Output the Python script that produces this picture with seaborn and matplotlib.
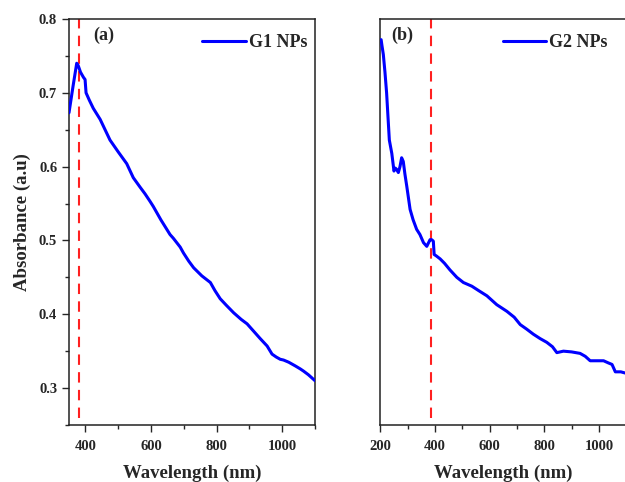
import numpy as np
import pandas as pd
import matplotlib
matplotlib.use("Agg")
import matplotlib.pyplot as plt
from matplotlib.ticker import MultipleLocator
import seaborn as sns

# G1 NPs spectrum (panel a)
g1_wl = [350, 362, 373.5, 378, 385, 394, 399, 402, 412, 424, 445, 460, 475, 500, 526,
         546, 567, 582, 597, 607, 630, 658, 668, 689, 699, 715, 730, 755, 781, 795,
         811, 830, 852, 875, 893, 913, 933, 954, 969, 982, 994, 1004, 1020, 1040,
         1055, 1065, 1080, 1100]
g1_abs = [0.673, 0.708, 0.740, 0.737, 0.728, 0.721, 0.718, 0.700, 0.690, 0.679, 0.664,
          0.650, 0.636, 0.620, 0.604, 0.585, 0.572, 0.563, 0.553, 0.546, 0.528, 0.508,
          0.503, 0.491, 0.483, 0.472, 0.463, 0.452, 0.443, 0.432, 0.421, 0.412, 0.402,
          0.393, 0.387, 0.377, 0.367, 0.357, 0.346, 0.342, 0.339, 0.338, 0.335, 0.330,
          0.326, 0.323, 0.318, 0.310]

# G2 NPs spectrum (panel b)
g2_wl = [203, 206, 211, 217, 223, 233, 242, 250, 255, 260, 266, 272, 278, 284, 290,
         297, 309, 320, 333, 345, 358, 370, 382, 388, 394, 397, 405, 419, 435, 455,
         480, 504, 535, 560, 590, 626, 663, 690, 712, 735, 760, 785, 809, 830, 846,
         870, 900, 931, 950, 968, 990, 1017, 1035, 1048, 1060, 1080, 1100]
g2_abs = [0.772, 0.764, 0.752, 0.728, 0.700, 0.636, 0.618, 0.594, 0.598, 0.596, 0.592,
          0.600, 0.612, 0.607, 0.590, 0.573, 0.542, 0.528, 0.515, 0.508, 0.497, 0.492,
          0.501, 0.501, 0.499, 0.481, 0.479, 0.475, 0.469, 0.460, 0.450, 0.443, 0.438,
          0.432, 0.425, 0.413, 0.404, 0.396, 0.386, 0.380, 0.373, 0.367, 0.362, 0.356,
          0.348, 0.350, 0.349, 0.347, 0.343, 0.337, 0.337, 0.337, 0.334, 0.332, 0.322,
          0.322, 0.320]

peak_a = 380
peak_b = 387

g1 = pd.DataFrame({"wl": g1_wl, "abs": g1_abs})
g2 = pd.DataFrame({"wl": g2_wl, "abs": g2_abs})

sns.set_style("ticks")
plt.rcParams["font.family"] = ["Liberation Serif", "DejaVu Serif"]
plt.rcParams["font.weight"] = "bold"
plt.rcParams["axes.labelweight"] = "bold"

fig = plt.figure(figsize=(6.25, 4.82), dpi=100)
ax1 = fig.add_axes([0.1104, 0.1183, 0.3936, 0.8423])
ax2 = fig.add_axes([0.6085, 0.1183, 0.3935, 0.8423])

for ax, df, name, tag, peak in [(ax1, g1, "G1 NPs", "(a)", peak_a),
                                (ax2, g2, "G2 NPs", "(b)", peak_b)]:
    sns.lineplot(data=df, x="wl", y="abs", ax=ax, color="#0000FF", lw=2.2,
                 label=name, zorder=3)
    ax.plot([peak, peak], [0.26, 0.8], color="#FF2020", lw=1.5,
            dashes=(5, 3.5), zorder=2)
    ax.set_ylim(0.25, 0.8)
    ax.xaxis.set_major_locator(MultipleLocator(200))
    ax.xaxis.set_minor_locator(MultipleLocator(100))
    ax.yaxis.set_major_locator(MultipleLocator(0.1))
    ax.yaxis.set_minor_locator(MultipleLocator(0.05))
    ax.tick_params(which="major", direction="out", length=5, width=1, labelsize=10.5)
    ax.tick_params(axis="x", which="major", pad=6)
    ax.tick_params(which="minor", direction="out", length=3, width=1)
    for s in ax.spines.values():
        s.set_linewidth(1.1)
        s.set_color("#222222")
    ax.set_xlabel("Wavelength (nm)", fontsize=13.5, labelpad=8)
    ax.text(0.1 if ax is ax1 else 0.045, 0.96, tag, transform=ax.transAxes,
            fontsize=13, fontweight="bold", va="center", ha="left")
    leg = ax.legend(loc="upper right", frameon=False, fontsize=13,
                    handlelength=2.4, handletextpad=0.2, borderaxespad=0.0,
                    bbox_to_anchor=(1.0 if ax is ax1 else 0.955, 0.98))
    for t in leg.get_texts():
        t.set_fontweight("bold")

ax1.set_xlim(350, 1100)
ax1.set_ylabel("Absorbance (a.u)", fontsize=13.5, labelpad=6)

ax2.set_xlim(200, 1100)
ax2.set_ylabel("")
ax2.set_yticklabels([])
ax2.tick_params(axis="y", which="both", length=0)

fig.savefig("out.png", dpi=100)
